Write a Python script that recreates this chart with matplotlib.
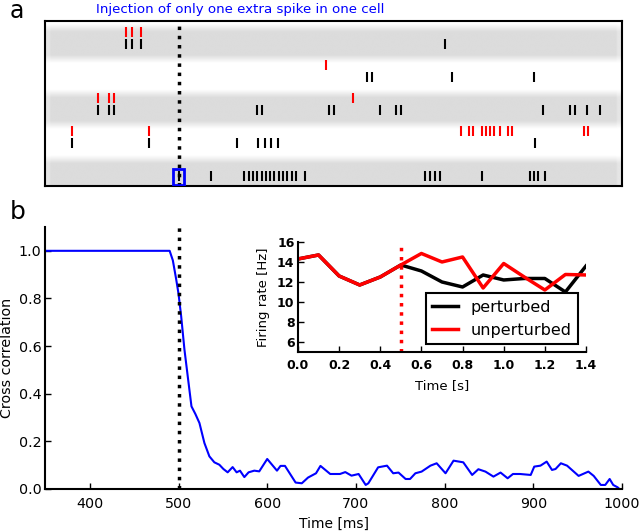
import numpy as np
import matplotlib
matplotlib.use("Agg")
import matplotlib.pyplot as plt
from matplotlib.patches import Rectangle

# ---- panel a: raster, spike times in ms, row 0 = top cell
black_spikes = [
    [440.5, 448, 457.7, 800],
    [712.9, 718.5, 807.8, 900.3],
    [408.7, 421.4, 427.3, 588.5, 594.2, 670, 675, 726.8, 744.8, 751,
     910.8, 941.6, 946.4, 960.2, 975.3],
    [379.4, 466.7, 566, 590, 598, 604.3, 612.2, 901.4],
    [500, 536.1, 574.3, 579.1, 584.0, 588.8, 593.6, 598.5, 603.3, 608.1,
     613.0, 617.8, 622.6, 627.5, 632.7, 642.9, 777.8, 783, 789, 795,
     842.2, 895.8, 900.3, 905.1, 912.7],
]
red_spikes = [
    [440.5, 448, 457.7],
    [666.8],
    [408.7, 421.4, 427.3, 696.8],
    [379.4, 466.7, 817.9, 828, 831.7, 842.2, 846.7, 851.6, 856.1, 862.9,
     871.4, 875.9, 957.6, 962.1],
    [],
]
inject_t = 500
inject_row = 4

# ---- panel b: cross correlation
t_ms = [350, 490, 493.6, 497.4, 500, 503, 506.7, 510.5, 514.6, 519, 523.6,
        529.2, 534.8, 540.4, 546, 550.6, 555.4, 561, 565.5, 569.3, 574.2,
        579, 585.4, 591, 600, 611, 615, 620, 632, 639, 646, 655, 660, 671,
        682, 688, 695, 703, 711, 714, 725, 735, 742, 748, 756, 761, 767,
        774, 784, 791, 801, 810, 821, 831, 838, 846, 855, 863, 871, 877,
        885, 897, 901, 908, 915, 921, 925, 931, 938, 951, 962, 968, 976,
        981, 986, 990, 995, 997]
cross_corr = [1.0, 1.0, 0.96, 0.88, 0.82, 0.725, 0.585, 0.47, 0.347, 0.315,
              0.277, 0.193, 0.137, 0.112, 0.102, 0.084, 0.07, 0.092, 0.07,
              0.077, 0.05, 0.07, 0.077, 0.074, 0.126, 0.077, 0.097, 0.097,
              0.027, 0.024, 0.048, 0.066, 0.097, 0.063, 0.063, 0.071, 0.056,
              0.063, 0.017, 0.024, 0.091, 0.098, 0.066, 0.069, 0.042, 0.042,
              0.066, 0.073, 0.098, 0.108, 0.066, 0.119, 0.112, 0.059, 0.083,
              0.073, 0.052, 0.069, 0.045, 0.063, 0.063, 0.059, 0.094, 0.098,
              0.115, 0.080, 0.084, 0.108, 0.098, 0.055, 0.073, 0.055, 0.017,
              0.017, 0.042, 0.017, 0.007, 0.0]

# ---- inset: firing rates
rate_t = [0.0, 0.1, 0.2, 0.3, 0.4, 0.5, 0.6, 0.7, 0.8, 0.9, 1.0, 1.1, 1.2, 1.3, 1.4]
rate_unpert = [14.3, 14.7, 12.6, 11.7, 12.5, 13.7, 14.85, 14.0, 14.5, 11.4,
               13.85, 12.5, 11.2, 12.75, 12.7]
rate_pert = [14.3, 14.7, 12.6, 11.7, 12.5, 13.7, 13.1, 12.0, 11.5, 12.7,
             12.2, 12.35, 12.35, 11.0, 13.6]

fig = plt.figure(figsize=(6.4, 5.31), dpi=100)

# ---------------- raster
axr = fig.add_axes([0.071, 0.6497, 0.901, 0.3107])
nrows = len(black_spikes)
# soft grey bands behind every other cell
yy = np.linspace(-0.5, nrows - 0.5, 400)
xx = np.linspace(350, 1000, 600)
band = np.zeros_like(yy)
for r in range(0, nrows, 2):
    d = np.abs(yy - (r + 0.17))
    band = np.maximum(band, np.clip((0.6 - d) / 0.25, 0, 1))
fade = np.clip((xx - 350) / 6, 0.75, 1) * np.clip((1000 - xx) / 6, 0.75, 1)
img = 1 - 0.14 * band[:, None] * fade[None, :]
axr.imshow(img, extent=(350, 1000, nrows - 0.5, -0.5), aspect='auto',
           cmap='gray', vmin=0, vmax=1, interpolation='bilinear', zorder=0)
for r in range(nrows):
    axr.vlines(black_spikes[r], r + 0.05, r + 0.34, color='black', lw=1.5)
    if red_spikes[r]:
        axr.vlines(red_spikes[r], r - 0.32, r - 0.01, color='red', lw=1.5)
axr.axvline(inject_t, color='black', ls=':', lw=2.5)
axr.add_patch(Rectangle((inject_t - 6, inject_row - 0.02), 12, 0.48,
                        fill=False, ec='#0000ff', lw=2, zorder=5))
axr.set_xlim(350, 1000)
axr.set_ylim(nrows - 0.5, -0.5)
axr.set_xticks([])
axr.set_yticks([])
for s in axr.spines.values():
    s.set_linewidth(1.5)

# ---------------- cross correlation
ax = fig.add_axes([0.071, 0.0791, 0.901, 0.4934])
ax.plot(t_ms, cross_corr, color='#0000ff', lw=1.5)
ax.axvline(inject_t, color='black', ls=':', lw=2.5)
ax.set_xlim(350, 1000)
ax.set_ylim(0, 1.1)
ax.set_xticks([400, 500, 600, 700, 800, 900, 1000])
ax.set_yticks([0.0, 0.2, 0.4, 0.6, 0.8, 1.0])
ax.yaxis.set_major_formatter(matplotlib.ticker.FormatStrFormatter('%.1f'))
ax.spines['top'].set_visible(False)
ax.spines['right'].set_visible(False)
for s in ('left', 'bottom'):
    ax.spines[s].set_linewidth(1.5)
ax.tick_params(direction='in', length=4.5, width=1, labelsize=10.3)
ax.tick_params(axis='x', pad=6)
ax.tick_params(axis='y', pad=3)
ax.set_xlabel('Time [ms]', fontsize=10, labelpad=4)
ax.set_ylabel('Cross correlation', fontsize=10.3, labelpad=3)

# ---------------- inset
axi = fig.add_axes([0.4656, 0.3371, 0.45, 0.2072])
axi.plot(rate_t, rate_pert, color='black', lw=2.5, label='perturbed')
axi.plot(rate_t, rate_unpert, color='red', lw=2.5, label='unperturbed')
axi.axvline(0.5, color='red', ls=':', lw=2.5)
axi.set_xlim(0, 1.4)
axi.set_ylim(5, 16)
axi.set_xticks(np.arange(0, 1.41, 0.2))
axi.set_yticks([6, 8, 10, 12, 14, 16])
axi.xaxis.set_major_formatter(matplotlib.ticker.FormatStrFormatter('%.1f'))
axi.spines['top'].set_visible(False)
axi.spines['right'].set_visible(False)
for s in ('left', 'bottom'):
    axi.spines[s].set_linewidth(1.5)
axi.tick_params(direction='in', length=4, width=1, labelsize=9)
axi.tick_params(axis='x', pad=5)
axi.tick_params(axis='y', pad=2.5)
for lab in axi.get_xticklabels() + axi.get_yticklabels():
    lab.set_fontweight('bold')
axi.set_xlabel('Time [s]', fontsize=9.5, labelpad=5)
axi.set_ylabel('Firing rate [Hz]', fontsize=9.5, labelpad=5)
leg = axi.legend(loc='lower right', fontsize=11.5, handlelength=1.6,
                 fancybox=False, framealpha=1, borderaxespad=0.5)
leg.get_frame().set_edgecolor('black')
leg.get_frame().set_linewidth(1.5)

# ---------------- labels
fig.text(10 / 640, 1 - 11 / 531, 'a', fontsize=17, va='center', ha='left')
fig.text(10 / 640, 1 - 212 / 531, 'b', fontsize=18, va='center', ha='left')
fig.text(240 / 640, 1 - 9 / 531, 'Injection of only one extra spike in one cell',
         color='#0000ff', fontsize=9.6, ha='center', va='center')

fig.savefig('out.png', dpi=100)
